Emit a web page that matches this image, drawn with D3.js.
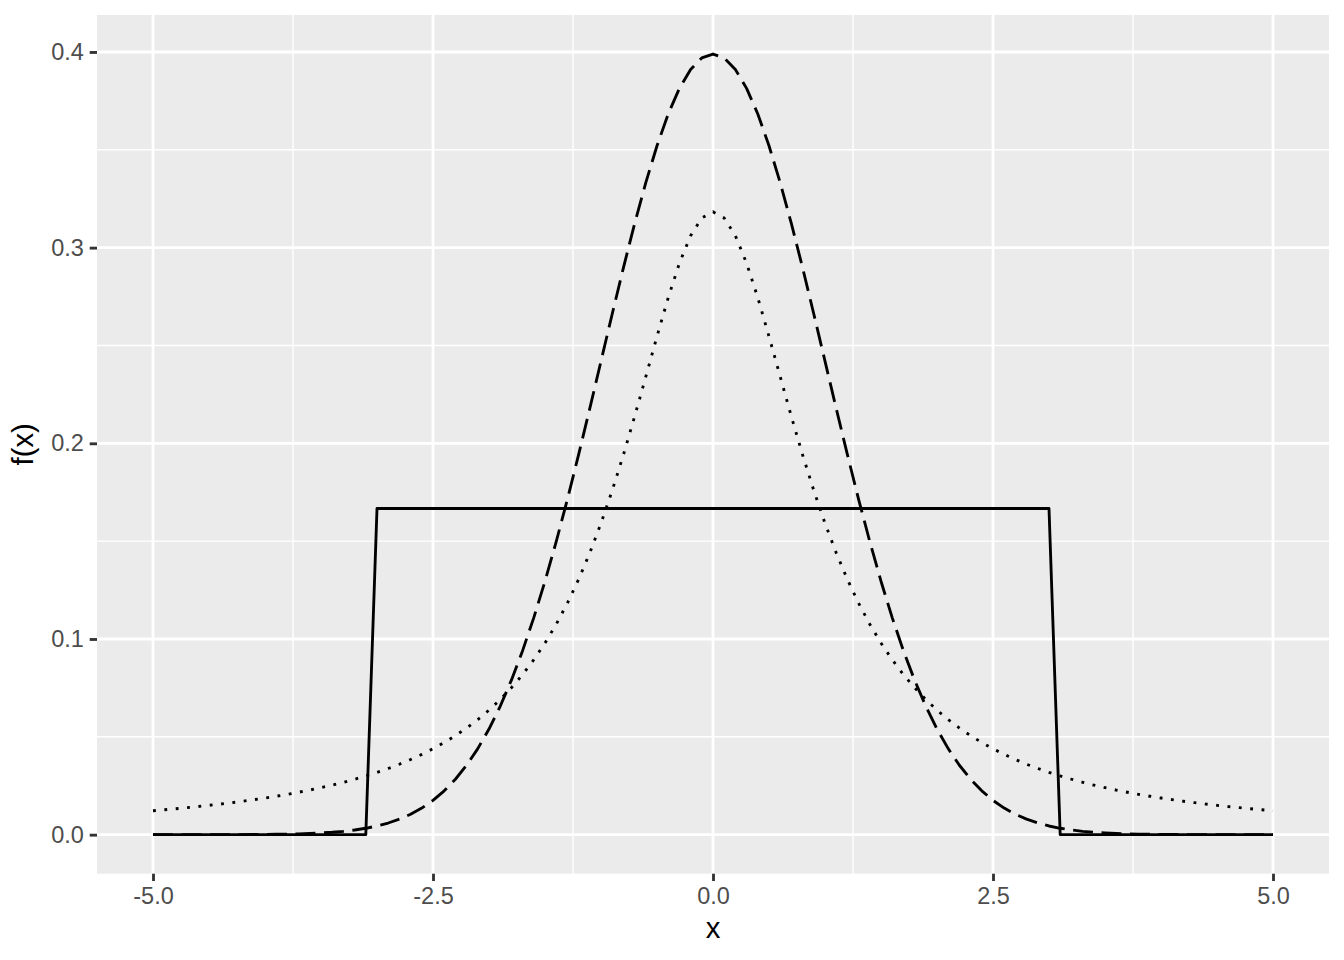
<!DOCTYPE html>
<html>
<head>
<meta charset="utf-8">
<script src="https://cdn.jsdelivr.net/npm/d3@7/dist/d3.min.js"></script>
<style>
  html, body { margin: 0; padding: 0; background: #ffffff; }
  svg { display: block; }
  text { font-family: "Liberation Sans", Arial, Helvetica, sans-serif; }
</style>
</head>
<body>
<svg id="chart" width="1344" height="960"></svg>
<script>
// ---- data ----
const xValues = [
  -5.0,-4.9,-4.8,-4.7,-4.6,-4.5,-4.4,-4.3,-4.2,-4.1,
  -4.0,-3.9,-3.8,-3.7,-3.6,-3.5,-3.4,-3.3,-3.2,-3.1,
  -3.0,-2.9,-2.8,-2.7,-2.6,-2.5,-2.4,-2.3,-2.2,-2.1,
  -2.0,-1.9,-1.8,-1.7,-1.6,-1.5,-1.4,-1.3,-1.2,-1.1,
  -1.0,-0.9,-0.8,-0.7,-0.6,-0.5,-0.4,-0.3,-0.2,-0.1,
  0.0,
  0.1,0.2,0.3,0.4,0.5,0.6,0.7,0.8,0.9,1.0,
  1.1,1.2,1.3,1.4,1.5,1.6,1.7,1.8,1.9,2.0,
  2.1,2.2,2.3,2.4,2.5,2.6,2.7,2.8,2.9,3.0,
  3.1,3.2,3.3,3.4,3.5,3.6,3.7,3.8,3.9,4.0,
  4.1,4.2,4.3,4.4,4.5,4.6,4.7,4.8,4.9,5.0
];

const uniformValues = [
  0,0,0,0,0,0,0,0,0,0,
  0,0,0,0,0,0,0,0,0,0,
  0.166667,0.166667,0.166667,0.166667,0.166667,0.166667,0.166667,0.166667,0.166667,0.166667,
  0.166667,0.166667,0.166667,0.166667,0.166667,0.166667,0.166667,0.166667,0.166667,0.166667,
  0.166667,0.166667,0.166667,0.166667,0.166667,0.166667,0.166667,0.166667,0.166667,0.166667,
  0.166667,
  0.166667,0.166667,0.166667,0.166667,0.166667,0.166667,0.166667,0.166667,0.166667,0.166667,
  0.166667,0.166667,0.166667,0.166667,0.166667,0.166667,0.166667,0.166667,0.166667,0.166667,
  0.166667,0.166667,0.166667,0.166667,0.166667,0.166667,0.166667,0.166667,0.166667,0.166667,
  0,0,0,0,0,0,0,0,0,0,
  0,0,0,0,0,0,0,0,0,0
];

const normalValues = [
  0.000001,0.000002,0.000004,0.000006,0.000010,0.000016,0.000025,0.000039,0.000059,0.000089,
  0.000134,0.000199,0.000292,0.000425,0.000612,0.000873,0.001232,0.001723,0.002384,0.003267,
  0.004432,0.005953,0.007915,0.010421,0.013583,0.017528,0.022395,0.028327,0.035475,0.043984,
  0.053991,0.065616,0.078950,0.094049,0.110921,0.129518,0.149727,0.171369,0.194186,0.217852,
  0.241971,0.266085,0.289692,0.312254,0.333225,0.352065,0.368270,0.381388,0.391043,0.396953,
  0.398942,
  0.396953,0.391043,0.381388,0.368270,0.352065,0.333225,0.312254,0.289692,0.266085,0.241971,
  0.217852,0.194186,0.171369,0.149727,0.129518,0.110921,0.094049,0.078950,0.065616,0.053991,
  0.043984,0.035475,0.028327,0.022395,0.017528,0.013583,0.010421,0.007915,0.005953,0.004432,
  0.003267,0.002384,0.001723,0.001232,0.000873,0.000612,0.000425,0.000292,0.000199,0.000134,
  0.000089,0.000059,0.000039,0.000025,0.000016,0.000010,0.000006,0.000004,0.000002,0.000001
];

const cauchyValues = [
  0.012243,0.012727,0.013241,0.013786,0.014364,0.014979,0.015634,0.016332,0.017077,0.017872,
  0.018724,0.019637,0.020616,0.021669,0.022802,0.024023,0.025343,0.026771,0.028319,0.030001,
  0.031831,0.033827,0.036008,0.038397,0.041019,0.043905,0.047087,0.050606,0.054505,0.058837,
  0.063662,0.069048,0.075073,0.081828,0.089413,0.097942,0.107537,0.118331,0.130455,0.144032,
  0.159155,0.175862,0.194091,0.213631,0.234051,0.254648,0.274405,0.292027,0.306067,0.315158,
  0.318310,
  0.315158,0.306067,0.292027,0.274405,0.254648,0.234051,0.213631,0.194091,0.175862,0.159155,
  0.144032,0.130455,0.118331,0.107537,0.097942,0.089413,0.081828,0.075073,0.069048,0.063662,
  0.058837,0.054505,0.050606,0.047087,0.043905,0.041019,0.038397,0.036008,0.033827,0.031831,
  0.030001,0.028319,0.026771,0.025343,0.024023,0.022802,0.021669,0.020616,0.019637,0.018724,
  0.017872,0.017077,0.016332,0.015634,0.014979,0.014364,0.013786,0.013241,0.012727,0.012243
];

const xTicks = [-5, -2.5, 0, 2.5, 5];
const xTickLabels = ["-5.0", "-2.5", "0.0", "2.5", "5.0"];
const xMinor = [-3.75, -1.25, 1.25, 3.75];
const yTicks = [0, 0.1, 0.2, 0.3, 0.4];
const yTickLabels = ["0.0", "0.1", "0.2", "0.3", "0.4"];
const yMinor = [0.05, 0.15, 0.25, 0.35];
const xTitle = "x";
const yTitle = "f(x)";

// ---- layout ----
const W = 1344, H = 960;
const panel = { left: 97, right: 1329, top: 15, bottom: 873.7 };
const svg = d3.select("#chart");

function expand(ext, f) {
  const d = (ext[1] - ext[0]) * f;
  return [ext[0] - d, ext[1] + d];
}
const allY = uniformValues.concat(normalValues, cauchyValues);
const x = d3.scaleLinear().domain(expand(d3.extent(xValues), 0.05)).range([panel.left, panel.right]);
const y = d3.scaleLinear().domain(expand(d3.extent(allY), 0.05)).range([panel.bottom, panel.top]);

// panel background
svg.append("rect")
  .attr("x", panel.left).attr("y", panel.top)
  .attr("width", panel.right - panel.left).attr("height", panel.bottom - panel.top)
  .attr("fill", "#EBEBEB");

const grid = svg.append("g");
// minor grid
grid.selectAll(".xminor").data(xMinor).enter().append("line")
  .attr("x1", d => x(d)).attr("x2", d => x(d))
  .attr("y1", panel.top).attr("y2", panel.bottom)
  .attr("stroke", "#ffffff").attr("stroke-width", 1.42);
grid.selectAll(".yminor").data(yMinor).enter().append("line")
  .attr("y1", d => y(d)).attr("y2", d => y(d))
  .attr("x1", panel.left).attr("x2", panel.right)
  .attr("stroke", "#ffffff").attr("stroke-width", 1.42);
// major grid
grid.selectAll(".xmajor").data(xTicks).enter().append("line")
  .attr("x1", d => x(d)).attr("x2", d => x(d))
  .attr("y1", panel.top).attr("y2", panel.bottom)
  .attr("stroke", "#ffffff").attr("stroke-width", 2.85);
grid.selectAll(".ymajor").data(yTicks).enter().append("line")
  .attr("y1", d => y(d)).attr("y2", d => y(d))
  .attr("x1", panel.left).attr("x2", panel.right)
  .attr("stroke", "#ffffff").attr("stroke-width", 2.85);

// lines
const series = [
  { name: "uniform", values: uniformValues, dash: null },
  { name: "normal", values: normalValues, dash: "19.95,8.55" },
  { name: "cauchy", values: cauchyValues, dash: "2.85,8.55" }
];
const line = d3.line().x(d => x(d[0])).y(d => y(d[1]));
series.forEach(s => {
  const pts = xValues.map((xv, i) => [xv, s.values[i]]);
  const p = svg.append("path")
    .attr("d", line(pts))
    .attr("fill", "none")
    .attr("stroke", "#000000")
    .attr("stroke-width", 2.85)
    .attr("stroke-linecap", "butt")
    .attr("stroke-linejoin", "round");
  if (s.dash) p.attr("stroke-dasharray", s.dash);
});

// axes
const fontSize = 23.5;
const xAxis = d3.axisBottom(x).tickValues(xTicks)
  .tickFormat((d, i) => xTickLabels[i]).tickSize(7.3).tickPadding(5.9);
const gx = svg.append("g").attr("transform", `translate(0,${panel.bottom})`).call(xAxis);
gx.select(".domain").remove();
gx.selectAll(".tick line").attr("stroke", "#333333").attr("stroke-width", 2.85);
gx.selectAll(".tick text").attr("fill", "#4D4D4D").style("font-size", fontSize + "px")
  .style("font-family", '"Liberation Sans", Arial, sans-serif');

const yAxis = d3.axisLeft(y).tickValues(yTicks)
  .tickFormat((d, i) => yTickLabels[i]).tickSize(7.3).tickPadding(5.9);
const gy = svg.append("g").attr("transform", `translate(${panel.left},0)`).call(yAxis);
gy.select(".domain").remove();
gy.selectAll(".tick line").attr("stroke", "#333333").attr("stroke-width", 2.85);
gy.selectAll(".tick text").attr("fill", "#4D4D4D").style("font-size", fontSize + "px")
  .style("font-family", '"Liberation Sans", Arial, sans-serif');

// titles
svg.append("text")
  .attr("x", (panel.left + panel.right) / 2).attr("y", 938)
  .attr("text-anchor", "middle")
  .style("font-size", "29.3px").attr("fill", "#000000")
  .text(xTitle);
svg.append("text")
  .attr("transform", `translate(33,${(panel.top + panel.bottom) / 2}) rotate(-90)`)
  .attr("text-anchor", "middle")
  .style("font-size", "29.3px").attr("fill", "#000000")
  .text(yTitle);
</script>
</body>
</html>
